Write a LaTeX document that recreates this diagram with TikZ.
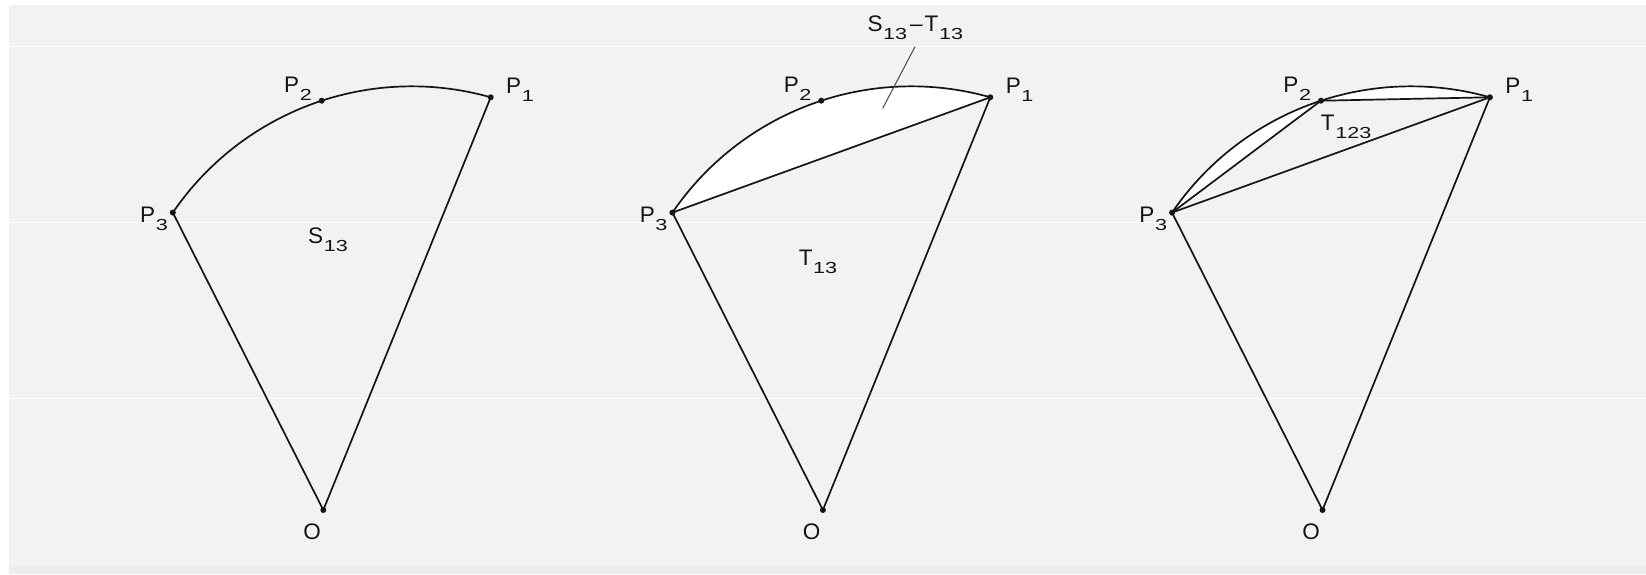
\documentclass[tikz,border=0pt]{standalone}
\usepackage{fontspec}
\setmainfont{Liberation Sans}
\definecolor{bggray}{HTML}{F2F2F2}
\definecolor{bottomgray}{HTML}{EDEDED}
\definecolor{ink}{HTML}{141414}
\definecolor{leader}{HTML}{4A4A4A}
\newcommand{\sbs}[1]{\kern0.6pt\raisebox{-8pt}{\scalebox{1.35}[1]{\fontsize{16}{16}\selectfont #1}}}
\def\cx{411.8}
\def\cy{375.6}
\def\rr{289.3}
\newcommand{\sectorpts}[1]{%
  \coordinate (C#1) at (\cx,\cy);
  \coordinate (O#1) at (323.3,510);
  \coordinate (P1#1) at ({\cx+\rr*cos(74.17)},{\cy-\rr*sin(74.17)});
  \coordinate (P2#1) at ({\cx+\rr*cos(108.15)},{\cy-\rr*sin(108.15)});
  \coordinate (P3#1) at ({\cx+\rr*cos(145.7)},{\cy-\rr*sin(145.7)});
}
\newcommand{\sectordots}[1]{%
  \foreach \pp in {O#1,P1#1,P2#1,P3#1} \fill[dotstyle] (\pp) circle (3pt);
  \node[lab] (lP1#1) at (506,93) {P\sbs{1}};
  \node[lab] (lP2#1) at (284,92) {P\sbs{2}};
  \node[lab] (lP3#1) at (140,222) {P\sbs{3}};
  \node[lab, anchor=center] (lO#1) at (312,531.5) {O};
}
\begin{document}
\begin{tikzpicture}[x=1pt,y=-1pt, line join=round, line cap=round,
  edge/.style={draw=ink, line width=1.7pt},
  dotstyle/.style={fill=ink},
  arcs/.style={domain=#1, samples=50, variable=\t},
  lab/.style={inner sep=0pt, anchor=base west, font=\fontsize{22.5}{22.5}\selectfont, text=ink}]
\useasboundingbox (0,0) rectangle (1646,574);
\fill[white] (0,0) rectangle (1646,574);
\fill[bggray] (9,4.5) rectangle (1646,567);
\fill[bottomgray] (9,567) rectangle (1646,574);
\foreach \yy in {46,222,398} \draw[white, line width=0.8pt] (9,\yy) -- (1646,\yy);

% Panel 1
\begin{scope}
  \sectorpts{a}
  \draw[edge] (Oa) -- (P3a) -- plot[arcs=145.7:74.17] ({\cx+\rr*cos(\t)},{\cy-\rr*sin(\t)}) -- (P1a) -- cycle;
  \sectordots{a}
  \node[lab] (S13) at (308,243) {S\sbs{13}};
\end{scope}

% Panel 2
\begin{scope}[xshift=499.6pt]
  \sectorpts{b}
  \fill[white] plot[arcs=145.7:74.17] ({\cx+\rr*cos(\t)},{\cy-\rr*sin(\t)}) -- cycle;
  \draw[edge] (Ob) -- (P3b) -- plot[arcs=145.7:74.17] ({\cx+\rr*cos(\t)},{\cy-\rr*sin(\t)}) -- (P1b) -- cycle;
  \draw[edge] (P3b) -- (P1b);
  \sectordots{b}
  \node[lab] (T13) at (299,265.4) {T\sbs{13}};
  \node[lab] (ST) at (367.7,31.5) {S\sbs{13}\kern3pt–\kern2pt T\sbs{13}};
  \coordinate (La) at (415.4,46.7);
  \coordinate (Lb) at (383.1,108.3);
  \draw[leader, line width=1pt] (La) -- (Lb);
\end{scope}

% Panel 3
\begin{scope}[xshift=999.2pt]
  \sectorpts{c}
  \fill[white] plot[arcs=145.7:108.15] ({\cx+\rr*cos(\t)},{\cy-\rr*sin(\t)}) -- cycle;
  \fill[white] plot[arcs=108.15:74.17] ({\cx+\rr*cos(\t)},{\cy-\rr*sin(\t)}) -- cycle;
  \draw[edge] (Oc) -- (P3c) -- plot[arcs=145.7:74.17] ({\cx+\rr*cos(\t)},{\cy-\rr*sin(\t)}) -- (P1c) -- cycle;
  \draw[edge] (P3c) -- (P1c);
  \draw[edge] (P3c) -- (P2c) -- (P1c);
  \sectordots{c}
  \node[lab] (T123) at (321.5,130) {T\sbs{123}};
\end{scope}
\end{tikzpicture}
\end{document}
